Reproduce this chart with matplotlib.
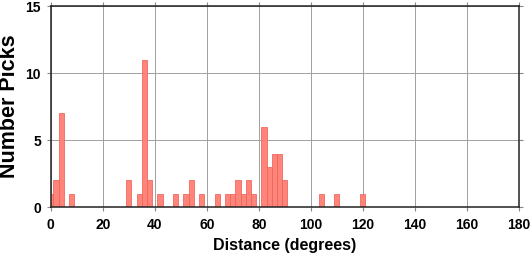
import numpy as np
import matplotlib
matplotlib.use("Agg")
import matplotlib.pyplot as plt

plt.rcParams['font.family'] = ['Liberation Sans', 'DejaVu Sans']
plt.rcParams['font.weight'] = 'bold'

# bin centres (degrees) and pick counts, 2 degree bins
bin_centers = [0, 2, 4, 8, 30, 34, 36, 38, 42, 48, 52, 54, 58, 64, 68, 70,
               72, 74, 76, 78, 82, 84, 86, 88, 90, 104, 110, 120]
counts = [1, 2, 7, 1, 2, 1, 11, 2, 1, 1, 1, 2, 1, 1, 1, 1,
          2, 1, 2, 1, 6, 3, 4, 4, 2, 1, 1, 1]
bin_width = 2

x_ticks = np.arange(0, 181, 20)
y_ticks = [0, 5, 10, 15]

fig = plt.figure(figsize=(5.3, 2.58), dpi=100)
ax = fig.add_axes([0.0957, 0.1965, 0.979 - 0.0957, 0.9767 - 0.1965])

ax.bar(bin_centers, counts, width=bin_width, color='#ff7f73',
       edgecolor='#f0645c', linewidth=0.6, alpha=0.95, zorder=3)

ax.set_xlim(0, 180)
ax.set_ylim(0, 15)
ax.set_xticks(x_ticks)
ax.set_yticks(y_ticks)
ax.grid(True, color='#a0a0a0', linewidth=0.7, zorder=0)
ax.set_axisbelow(True)

for s in ax.spines.values():
    s.set_linewidth(1.1)
    s.set_color('#222222')
    s.set_zorder(5)

ax.tick_params(direction='out', length=3, width=0.8, color='#888888',
               top=True, right=True, labelsize=10)
ax.tick_params(axis='x', pad=5)
ax.tick_params(axis='y', pad=4)
for lab in ax.get_xticklabels() + ax.get_yticklabels():
    lab.set_fontweight('bold')

ax.set_xlabel('Distance (degrees)', fontsize=11.5, fontweight='bold', labelpad=4)
ax.set_ylabel('Number Picks', fontsize=15.5, fontweight='bold', labelpad=4)

fig.savefig('out.png', dpi=100)
